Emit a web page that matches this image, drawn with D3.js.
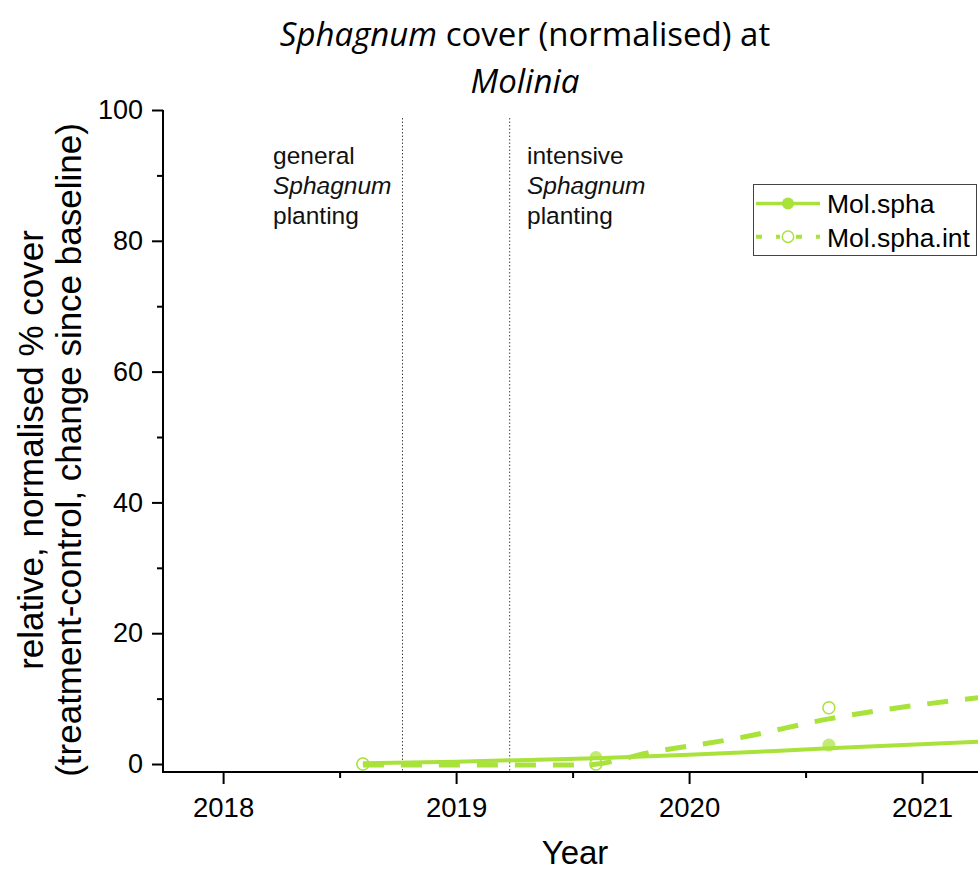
<!DOCTYPE html>
<html><head><meta charset="utf-8">
<script src="https://cdn.jsdelivr.net/npm/d3@7"></script>
<style>body{margin:0;background:#fff}svg{display:block}</style>
</head><body>
<script>
const xTicks = [2018, 2019, 2020, 2021];
const xMinorTicks = [2018.5, 2019.5, 2020.5];
const yTicks = [0, 20, 40, 60, 80, 100];
const yMinorTicks = [10, 30, 50, 70, 90];
const seriesNames = ["Mol.spha", "Mol.spha.int"];
// observed points
const sphaYears = [2018.6, 2019.6, 2020.6];
const sphaValues = [0, 1.0, 2.9];
const intYears = [2018.6, 2019.6, 2020.6];
const intValues = [0, 0, 8.6];
// fitted lines
const sphaFitYears = [2018.6, 2019.0, 2019.6, 2020.0, 2020.6, 2021.3];
const sphaFitValues = [0.1, 0.35, 0.9, 1.4, 2.4, 3.5];
const intFitYears = [2018.6, 2019.0, 2019.55, 2019.85, 2020.2, 2020.6, 2021.3];
const intFitValues = [-0.15, -0.15, -0.15, 1.9, 3.9, 6.9, 10.4];
const markers = [2018.77, 2019.23];
const markerLabels = [["general", "Sphagnum", "planting"], ["intensive", "Sphagnum", "planting"]];

const W = 978, H = 872;
const green = "#a8e23a";
const svg = d3.select("body").append("svg").attr("width", W).attr("height", H);
const x = d3.scaleLinear().domain([2017.742, 2021.24]).range([163, 978]);
const y = d3.scaleLinear().domain([-1.22, 100]).range([772, 110]);
const font = "Arial, 'Liberation Sans', sans-serif";

svg.append("clipPath").attr("id", "clip").append("rect")
  .attr("x", 163).attr("y", 100).attr("width", 815).attr("height", 672);
const plot = svg.append("g").attr("clip-path", "url(#clip)");

// markers
markers.forEach(m => {
  plot.append("line").attr("x1", x(m)).attr("x2", x(m)).attr("y1", 118).attr("y2", 772)
    .attr("stroke", "#444").attr("stroke-width", 1).attr("stroke-dasharray", "1.5,2");
});
const labX = [273, 527];
markerLabels.forEach((lines, i) => {
  const t = svg.append("text").attr("font-family", font).attr("font-size", 24.5).attr("fill", "#111");
  lines.forEach((l, j) => {
    t.append("tspan").attr("x", labX[i]).attr("y", 163.5 + j * 30)
      .attr("font-style", j === 1 ? "italic" : "normal").text(l);
  });
});

// points
plot.selectAll(".fp").data(sphaYears.map((d, i) => [d, sphaValues[i]])).enter()
  .append("circle").attr("cx", d => x(d[0])).attr("cy", d => y(d[1])).attr("r", 6.5)
  .attr("fill", green).attr("opacity", 0.7);
plot.selectAll(".op").data(intYears.map((d, i) => [d, intValues[i]])).enter()
  .append("circle").attr("cx", d => x(d[0])).attr("cy", d => y(d[1])).attr("r", 6)
  .attr("fill", "#fff").attr("stroke", green).attr("stroke-width", 1.5);

// lines
const line = d3.line().x(d => x(d[0])).y(d => y(d[1])).curve(d3.curveMonotoneX);
plot.append("path").datum(sphaFitYears.map((d, i) => [d, sphaFitValues[i]]))
  .attr("d", line).attr("fill", "none").attr("stroke", green).attr("stroke-width", 4);
plot.append("path").datum(intFitYears.map((d, i) => [d, intFitValues[i]]))
  .attr("d", line).attr("fill", "none").attr("stroke", green).attr("stroke-width", 5)
  .attr("stroke-dasharray", "21,17");

// axes
const ax = svg.append("g").attr("transform", "translate(0,772)");
ax.append("line").attr("x1", 162).attr("x2", 978).attr("stroke", "#000").attr("stroke-width", 2);
ax.call(d3.axisBottom(x).tickValues(xTicks).tickSize(12).tickPadding(0).tickFormat(d3.format("d")))
  .call(g => g.select(".domain").remove())
  .call(g => g.selectAll("line").attr("stroke-width", 2))
  .call(g => g.selectAll("text").attr("font-family", font).attr("font-size", 27.5).attr("fill", "#000")
    .attr("y", 45).attr("dy", null));
svg.append("g").attr("transform", "translate(0,772)")
  .call(d3.axisBottom(x).tickValues(xMinorTicks).tickSize(6).tickFormat(""))
  .call(g => g.select(".domain").remove())
  .call(g => g.selectAll("line").attr("stroke-width", 2));

const ay = svg.append("g").attr("transform", "translate(163,0)");
ay.append("line").attr("y1", 110).attr("y2", 773).attr("stroke", "#000").attr("stroke-width", 2);
ay.call(d3.axisLeft(y).tickValues(yTicks).tickSize(11).tickPadding(9))
  .call(g => g.select(".domain").remove())
  .call(g => g.selectAll("line").attr("stroke-width", 2))
  .call(g => g.selectAll("text").attr("font-family", font).attr("font-size", 27).attr("fill", "#000"));
svg.append("g").attr("transform", "translate(163,0)")
  .call(d3.axisLeft(y).tickValues(yMinorTicks).tickSize(6).tickFormat(""))
  .call(g => g.select(".domain").remove())
  .call(g => g.selectAll("line").attr("stroke-width", 2));

// axis titles
svg.append("text").attr("x", 575).attr("y", 864).attr("text-anchor", "middle")
  .attr("font-family", font).attr("font-size", 33).text("Year");
const yl = svg.append("text").attr("transform", "translate(0,450) rotate(-90)")
  .attr("text-anchor", "middle").attr("font-family", font).attr("font-size", 35);
yl.append("tspan").attr("x", 0).attr("y", 43).text("relative, normalised % cover");
yl.append("tspan").attr("x", 0).attr("y", 81).text("(treatment-control, change since baseline)");

// title
const tf = "'Open Sans', 'DejaVu Sans', sans-serif";
const tt = svg.append("text").attr("x", 525).attr("y", 46).attr("text-anchor", "middle")
  .attr("font-family", tf).attr("font-size", 33);
tt.append("tspan").attr("font-style", "italic").text("Sphagnum");
tt.append("tspan").text(" cover (normalised) at");
svg.append("text").attr("x", 525).attr("y", 93).attr("text-anchor", "middle")
  .attr("font-family", tf).attr("font-size", 33).attr("font-style", "italic").text("Molinia");

// legend
const lg = svg.append("g");
lg.append("rect").attr("x", 753.5).attr("y", 184.5).attr("width", 223).attr("height", 71)
  .attr("fill", "#fff").attr("stroke", "#444").attr("stroke-width", 1);
seriesNames.forEach((n, i) => {
  const cy = 203.5 + i * 33.3;
  lg.append("line").attr("x1", 756).attr("x2", 820).attr("y1", cy).attr("y2", cy)
    .attr("stroke", green).attr("stroke-width", i === 0 ? 3.5 : 4)
    .attr("stroke-dasharray", i === 0 ? null : "6,14,4,16,6,14,4");
  if (i === 0) lg.append("circle").attr("cx", 788).attr("cy", cy).attr("r", 6).attr("fill", green);
  else lg.append("circle").attr("cx", 788).attr("cy", cy).attr("r", 5.7).attr("fill", "#fff")
    .attr("stroke", green).attr("stroke-width", 1.5);
  lg.append("text").attr("x", 827).attr("y", cy + 9.7).attr("font-family", font)
    .attr("font-size", 26.5).text(n);
});
</script>
</body></html>
